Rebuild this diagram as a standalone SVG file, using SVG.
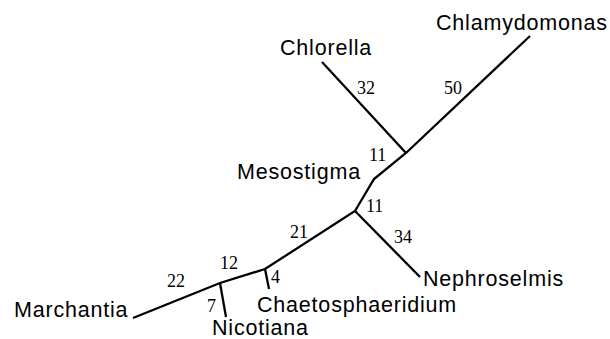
<svg xmlns="http://www.w3.org/2000/svg" width="610" height="339" viewBox="0 0 610 339">
<style>
.lbl{font-family:"Liberation Sans",Arial,sans-serif;font-size:21.5px;letter-spacing:0.8px;fill:#000}
.num{font-family:"Liberation Serif","Times New Roman",serif;font-size:18px;fill:#000}
.br{stroke:#000;stroke-width:2.3;fill:none;stroke-linecap:butt;stroke-linejoin:miter}
</style>
<rect width="610" height="339" fill="#fff"/>
<g id="connectors">
<polyline class="br" points="133,318 220,283 265,269 355,211 374,179 406,153 530,36"/>
<line class="br" x1="406" y1="153" x2="322" y2="62"/>
<line class="br" x1="355" y1="211" x2="420" y2="277"/>
<line class="br" x1="220" y1="283" x2="226" y2="317"/>
<line class="br" x1="265" y1="269" x2="269" y2="289"/>
<text class="num" x="167" y="287">22</text>
<text class="num" x="220" y="269">12</text>
<text class="num" x="207" y="312">7</text>
<text class="num" x="271" y="283">4</text>
<text class="num" x="290" y="238">21</text>
<text class="num" x="366" y="212">11</text>
<text class="num" x="394" y="243">34</text>
<text class="num" x="369" y="161">11</text>
<text class="num" x="357" y="94">32</text>
<text class="num" x="444" y="94">50</text>
</g>
<g id="chlamydomonas"><text class="lbl" x="436" y="30">Chlamydomonas</text></g>
<g id="chlorella"><text class="lbl" x="280" y="55">Chlorella</text></g>
<g id="mesostigma"><text class="lbl" x="237" y="179">Mesostigma</text></g>
<g id="nephroselmis"><text class="lbl" x="423" y="286">Nephroselmis</text></g>
<g id="chaetosphaeridium"><text class="lbl" x="257" y="312">Chaetosphaeridium</text></g>
<g id="marchantia"><text class="lbl" x="14" y="317">Marchantia</text></g>
<g id="nicotiana"><text class="lbl" x="212" y="335">Nicotiana</text></g>
</svg>
